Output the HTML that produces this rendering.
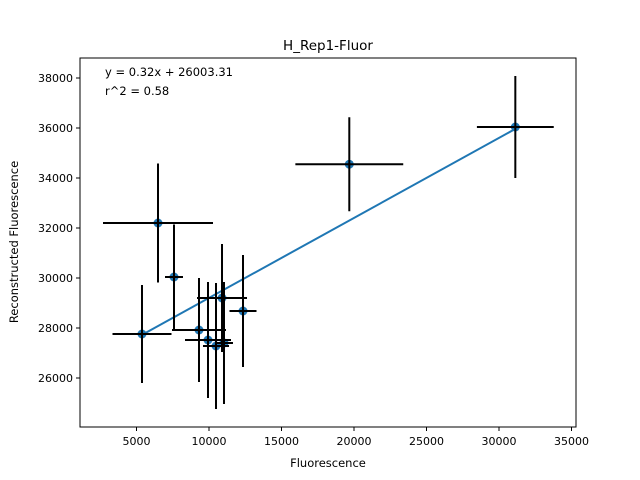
<!DOCTYPE html>
<html><head><meta charset="utf-8"><style>
body{margin:0;background:#fff}
svg{display:block;font-family:"DejaVu Sans","Liberation Sans",sans-serif}
</style></head><body>
<svg id="chart" width="640" height="480">
<rect width="640" height="480" fill="#fff"/>
<text x="328" y="50" font-size="13.5" text-anchor="middle">H_Rep1-Fluor</text>
<g id="xt"></g>
<g id="yt"></g>
<g id="marks"></g>
<rect x="80" y="58" width="496" height="369" fill="none" stroke="#000" stroke-width="1"/>
<text x="105" y="76" font-size="11.5">y = 0.32x + 26003.31</text>
<text x="105" y="95" font-size="11.5">r^2 = 0.58</text>
<text x="328" y="467" font-size="11.5" text-anchor="middle">Fluorescence</text>
<text transform="translate(18,242) rotate(-90)" font-size="11.5" text-anchor="middle">Reconstructed Fluorescence</text>
</svg>
<script>
const xs=[6483,7586,5379,9310,9931,10483,10897,11034,12345,19676,31126];
const ys=[32200,30040,27760,27920,27520,27280,29200,27400,28680,34550,36040];
const xerr=[3793,620,2034,1862,1586,897,1724,620,931,3720,2650];
const yerr=[2380,2100,1960,2080,2320,2520,2160,2440,2240,1880,2040];
const xticks=[5000,10000,15000,20000,25000,30000,35000];
const yticks=[26000,28000,30000,32000,34000,36000,38000];
const slope=0.32, intercept=26003.31;
const X=v=>136.5+(v-5000)*14.5/1000;
const Y=v=>378-(v-26000)*25/1000;
const NS='http://www.w3.org/2000/svg';
function mk(tag,attrs,parent){const e=document.createElementNS(NS,tag);for(const k in attrs)e.setAttribute(k,attrs[k]);parent.appendChild(e);return e;}
const xt=document.getElementById('xt'),yt=document.getElementById('yt'),m=document.getElementById('marks');
xticks.forEach(t=>{
  const l=mk('line',{x1:X(t),x2:X(t),y1:427,y2:431,stroke:'#000'},xt);
  
  
  const tx=mk('text',{x:X(t),y:445,'font-size':11,'text-anchor':'middle'},xt);tx.textContent=t;
  
  
});
yticks.forEach(t=>{
  const l=mk('line',{x1:76,x2:80,y1:Y(t),y2:Y(t),stroke:'#000'},yt);
  
  
  const tx=mk('text',{x:73,y:Y(t)+4,'font-size':11,'text-anchor':'end'},yt);tx.textContent=t;
  
  
});
xs.forEach((x,i)=>{
  const c=mk('circle',{cx:X(x),cy:Y(ys[i]),r:4.5,fill:'#1f77b4'},m);
  
  
});
const xmin=Math.min(...xs),xmax=Math.max(...xs);
const fl=mk('line',{x1:X(xmin),y1:Y(slope*xmin+intercept),x2:X(xmax),y2:Y(slope*xmax+intercept),stroke:'#1f77b4','stroke-width':2},m);


xs.forEach((x,i)=>{
  const h=mk('line',{x1:X(x-xerr[i]),x2:X(x+xerr[i]),y1:Y(ys[i]),y2:Y(ys[i]),stroke:'#000','stroke-width':2},m);
  
  
  const v=mk('line',{x1:X(x),x2:X(x),y1:Y(ys[i]-yerr[i]),y2:Y(ys[i]+yerr[i]),stroke:'#000','stroke-width':2},m);
  
  
});
</script>
</body></html>
